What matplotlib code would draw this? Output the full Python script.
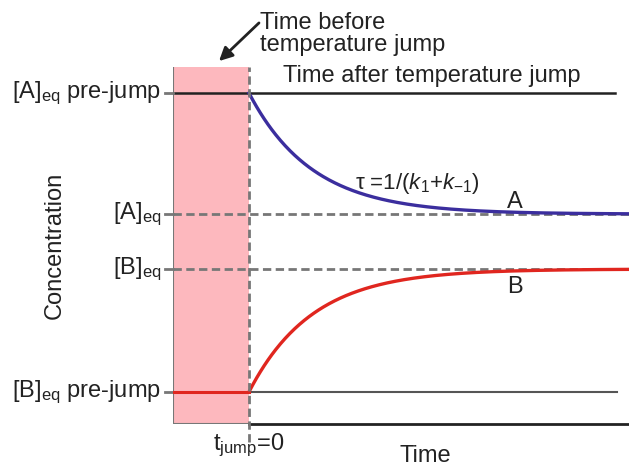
import numpy as np
import matplotlib.pyplot as plt
from matplotlib.patches import Rectangle

plt.rcParams['font.family'] = ['Liberation Sans', 'DejaVu Sans']
plt.rcParams['mathtext.fontset'] = 'custom'
plt.rcParams['mathtext.rm'] = 'Liberation Sans'
plt.rcParams['mathtext.it'] = 'Liberation Sans:italic'

# niveis de concentracao (unidades arbitrarias)
A_pre = 0.927
A_eq = 0.588
B_eq = 0.434
B_pre = 0.090
tau = 1.0          # tau = 1/(k1 + k-1)
t_before = -1.2    # inicio da janela antes do salto
t_end = 6.0

niveis = ["[A]$_\\mathrm{eq}$ pre-jump", "[A]$_\\mathrm{eq}$", "[B]$_\\mathrm{eq}$", "[B]$_\\mathrm{eq}$ pre-jump"]
valores = [A_pre, A_eq, B_eq, B_pre]

t = np.linspace(0, t_end, 400)
A_t = A_eq + (A_pre - A_eq) * np.exp(-t / tau)
B_t = B_eq + (B_pre - B_eq) * np.exp(-t / tau)

fig = plt.figure(figsize=(6.29, 4.68), dpi=100)
ax = fig.add_axes([173 / 629, 44 / 468, 456 / 629, 357 / 468])
ax.set_xlim(t_before, t_end)
ax.set_ylim(0, 1)
ax.axis("off")

ppx = (t_end - t_before) / 456.0   # unidades por pixel em x
ppy = 1.0 / 357.0

# janela antes do salto
ax.add_patch(Rectangle((t_before, 0), -t_before, 1, facecolor="#fdb8be", edgecolor="none", zorder=1))
ax.plot([t_before, t_before], [0, 1], color="#777777", lw=1.5, zorder=2)
ax.plot([t_before, 0], [0, 0], color="#777777", lw=1.5, zorder=2)

# eixo do tempo
ax.plot([0, t_end], [0, 0], color="#222222", lw=2, clip_on=False, zorder=3)

# linhas de equilibrio
gray = "#777777"
ax.plot([t_before, t_end], [A_eq, A_eq], color=gray, lw=2, ls=(0, (3, 1.6)), zorder=2, clip_on=False)
ax.plot([t_before, t_end], [B_eq, B_eq], color=gray, lw=2, ls=(0, (3, 1.6)), zorder=2, clip_on=False)
ax.plot([t_before, 5.78], [A_pre, A_pre], color="#222222", lw=1.8, zorder=2)
ax.plot([0, 5.81], [B_pre, B_pre], color="#555555", lw=1.5, zorder=2)
ax.plot([t_before, 0], [B_pre, B_pre], color="#e0261f", lw=2.2, zorder=4)

# marcas a esquerda
for v in valores:
    ax.plot([t_before - 8 * ppx, t_before], [v, v], color=gray, lw=2, clip_on=False, zorder=2)

# t_jump
ax.plot([0, 0], [-18 * ppy, 1], color=gray, lw=2, ls=(0, (3, 1.6)), clip_on=False, zorder=5)

# curvas de relaxacao
ax.plot(t, A_t, color="#3b2e9e", lw=2.4, zorder=4)
ax.plot(t, B_t, color="#e0261f", lw=2.4, zorder=4)

fs = 17
for lab, v in zip(niveis, valores):
    ax.text(t_before - 12 * ppx, v, lab, ha="right", va="center", fontsize=fs, color="#222222")

ax.text(t_before - 118 * ppx, 0.5, "Concentration", rotation=90, ha="center", va="center",
        fontsize=fs, color="#222222")
ax.text(0, -8 * ppy, "t$_\\mathrm{jump}$=0", ha="center", va="top", fontsize=fs, color="#222222")
ax.text(t_before + 252 * ppx, -43 * ppy, "Time", ha="center", va="bottom", fontsize=fs, color="#222222")

ax.text(t_before + 87 * ppx, 1 + 55 * ppy, "Time before\ntemperature jump", ha="left", va="top",
        fontsize=fs, color="#222222", linespacing=1.0)
ax.annotate("", xy=(t_before + 44 * ppx, 1 + 4 * ppy), xytext=(t_before + 88 * ppx, 1 + 46 * ppy),
            arrowprops=dict(arrowstyle="-|>", lw=2, color="#222222", mutation_scale=20),
            annotation_clip=False)
ax.text(t_before + 110 * ppx, 1 - 9 * ppy, "Time after temperature jump", ha="left", va="center",
        fontsize=fs, color="#222222")

ax.text(t_before + 182 * ppx, 1 - 116 * ppy, "τ =1/($k_1$+$k_{-1}$)", ha="left", va="center",
        fontsize=16, color="#222222")
ax.text(t_before + 342 * ppx, A_eq + 12 * ppy, "A", ha="center", va="center", fontsize=fs, color="#222222")
ax.text(t_before + 342 * ppx, B_eq - 18 * ppy, "B", ha="center", va="center", fontsize=fs, color="#222222")

fig.savefig("out.png", dpi=100)
